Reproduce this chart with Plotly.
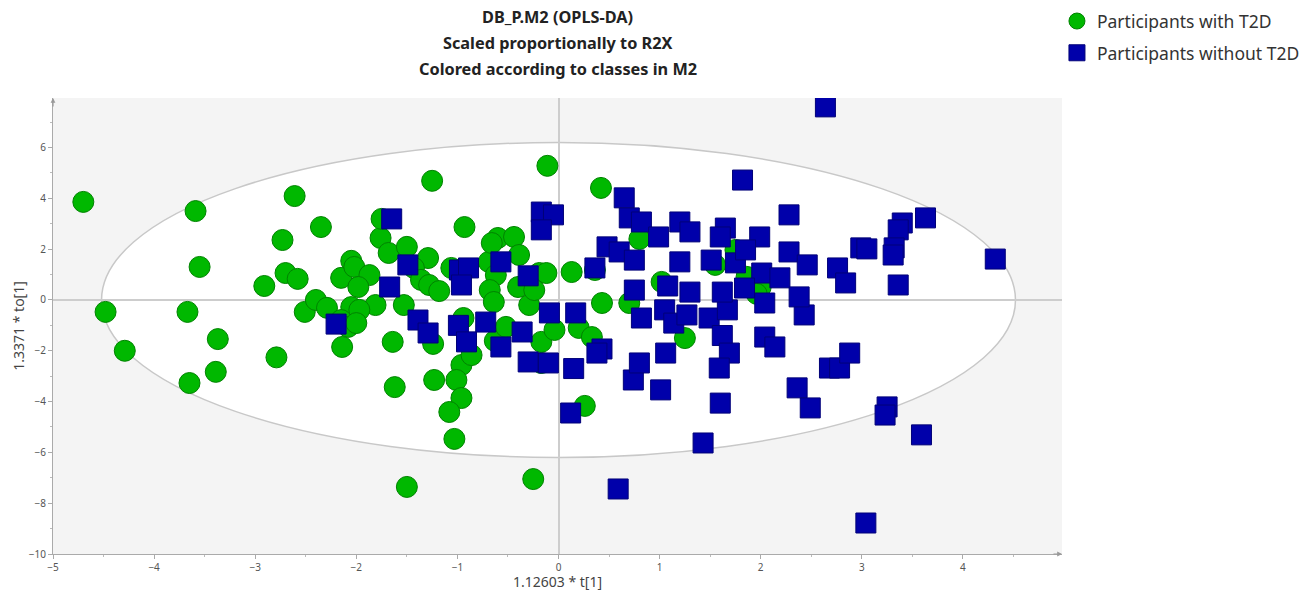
import plotly.graph_objects as go

# Participants with T2D (t[1] scaled, to[1] scaled)
t2d_x = [-4.70, -4.48, -4.29, -3.59, -3.55, -3.67, -3.65, -3.39, -3.37, -2.91,
         -2.79, -2.73, -2.70, -2.58, -2.61, -2.35, -2.51, -2.40, -2.29, -2.15,
         -2.05, -2.02, -1.87, -1.98, -1.76, -1.68, -1.75, -1.50, -1.81, -2.05,
         -1.97, -2.15, -2.08, -2.00, -2.14, -1.64, -1.62, -1.50, -1.29, -1.43,
         -1.36, -1.28, -1.18, -1.53, -1.24, -1.25, -0.93, -1.06, -0.94, -1.23,
         -0.96, -1.01, -0.96, -1.08, -1.03, -0.86, -0.63, -0.52, -0.69, -0.62,
         -0.68, -0.64, -0.60, -0.44, -0.39, -0.66, -0.19, -0.12, -0.40, -0.29,
         -0.24, -0.17, -0.17, -0.04, 0.20, 0.33, 0.13, -0.11, -0.25, 0.26,
         0.43, 0.42, 0.36, 0.80, 0.70, 1.02, 1.25, 1.55, 1.75, 1.86,
         2.00, 1.96]
t2d_y = [3.86, -0.47, -2.00, 3.50, 1.30, -0.47, -3.27, -2.83, -1.54, 0.55,
         -2.26, 2.36, 1.06, 0.83, 4.09, 2.87, -0.47, 0.00, -0.31, 0.87,
         1.54, 1.30, 0.98, 0.51, 2.44, 1.85, 3.19, 2.09, -0.20, -0.28,
         -0.39, -0.79, -1.06, -0.91, -1.85, -1.65, -3.43, -7.36, 1.65, 1.26,
         0.79, 0.59, 0.35, -0.20, -1.73, 4.69, 2.87, 1.26, -0.71, -3.15,
         -2.56, -3.15, -3.86, -4.41, -5.47, -2.17, -1.61, -1.06, 1.50, 0.98,
         0.39, -0.08, 2.44, 2.48, 1.77, 2.24, 1.06, 1.06, 0.51, -0.20,
         0.39, -1.65, -2.48, -1.18, -1.10, -1.46, 1.10, 5.28, -7.05, -4.17,
         -0.12, 4.41, 1.18, 2.40, -0.12, 0.71, -1.50, 1.38, 1.97, 0.91,
         0.51, 0.24]

# Participants without T2D
no_x = [-1.65, -1.67, -2.20, -1.49, -1.39, -1.29, -0.98, -0.89, -0.96, -0.99,
        -0.91, -0.72, -0.36, -0.57, -0.57, -0.30, -0.17, -0.05, -0.17, -0.09,
        0.17, -0.30, -0.10, 0.15, 0.12, 0.43, 0.38, 0.59, 1.43, 1.60,
        0.74, 0.80, 1.01, 1.06, 0.82, 1.05, 1.14, 1.27, 1.49, 1.67,
        1.62, 1.69, 1.59, 2.04, 2.14, 2.43, 2.36, 2.49, 2.68, 2.78,
        2.88, 1.82, 0.65, 0.70, 0.82, 1.20, 1.30, 1.65, 1.60, 2.28,
        1.99, 0.99, 0.48, 0.60, 0.75, 0.36, 1.20, 1.51, 1.75, 1.85,
        2.28, 2.46, 2.76, 2.84, 2.99, 2.01, 2.19, 2.38, 0.75, 1.08,
        1.30, 1.62, 1.84, 2.04, 2.64, 3.63, 3.40, 3.36, 3.32, 3.31,
        3.05, 4.32, 3.36, 3.25, 3.23, 3.59, 3.04]
no_y = [3.19, 0.51, -0.95, 1.38, -0.79, -1.30, 1.18, 1.26, 0.59, -1.00,
        -1.65, -0.87, -1.26, -1.85, 1.50, 0.95, 3.46, 3.35, 2.76, -0.51,
        -0.51, -2.44, -2.48, -2.70, -4.45, -1.93, -2.09, -7.44, -5.63, -4.06,
        -3.15, -2.48, -3.54, -2.09, -0.71, -0.39, -0.91, -0.59, -0.71, -0.39,
        -1.40, -2.09, -2.68, -1.46, -1.85, -0.59, -3.46, -4.25, -2.68, -2.68,
        -2.09, 4.72, 4.02, 3.23, 3.07, 3.07, 2.68, 2.83, 2.48, 3.35,
        2.48, 2.48, 2.09, 1.89, 1.57, 1.26, 1.50, 1.57, 1.46, 1.97,
        1.89, 1.38, 1.26, 0.67, 2.05, 1.06, 0.87, 0.12, 0.39, 0.55,
        0.31, 0.31, 0.47, -0.12, 7.60, 3.23, 3.03, 2.76, 2.05, 1.77,
        2.01, 1.61, 0.59, -4.21, -4.53, -5.31, -8.78]

# Hotelling's T2 ellipse semi-axes
ellipse_a = 4.52
ellipse_b = 6.2

title_lines = ["DB_P.M2 (OPLS-DA)", "Scaled proportionally to R2X",
               "Colored according to classes in M2"]
x_label = "1.12603 * t[1]"
y_label = "1.3371 * to[1]"

GREEN = "rgb(0,184,0)"
BLUE = "rgb(0,0,170)"

fig = go.Figure()
fig.add_trace(go.Scatter(
    x=t2d_x, y=t2d_y, mode="markers", name="Participants with T2D",
    legendgroup="a",
    marker=dict(symbol="circle", size=21, color=GREEN,
                line=dict(color="rgb(0,130,0)", width=1)),
    hoverinfo="x+y"))
fig.add_trace(go.Scatter(
    x=no_x, y=no_y, mode="markers", name="Participants without T2D",
    legendgroup="b",
    marker=dict(symbol="square", size=20, color=BLUE,
                line=dict(color="rgb(0,0,120)", width=1)),
    hoverinfo="x+y"))

fig.add_shape(type="circle", xref="x", yref="y",
              x0=-ellipse_a, x1=ellipse_a, y0=-ellipse_b, y1=ellipse_b,
              fillcolor="white", line=dict(color="rgb(200,200,200)", width=1.5),
              layer="below")

title_y = [1.178, 1.121, 1.064]
for txt, yy in zip(title_lines, title_y):
    fig.add_annotation(text="<b>" + txt + "</b>", xref="paper", yref="paper",
                       x=0.5, y=yy, showarrow=False, xanchor="center", yanchor="middle",
                       font=dict(family="Noto Sans", size=16.3, color="#222"))

# axis titles
fig.add_annotation(text=x_label, xref="paper", yref="paper", x=0.5, y=-0.06,
                   showarrow=False, xanchor="center", yanchor="middle",
                   font=dict(family="Noto Sans", size=14, color="#444"))
fig.add_annotation(text=y_label, xref="paper", yref="paper", x=-0.035, y=0.5,
                   showarrow=False, xanchor="center", yanchor="middle", textangle=-90,
                   font=dict(family="Noto Sans", size=14, color="#444"))

# axis arrows
fig.add_annotation(xref="paper", yref="paper", x=0, y=1.0, ax=0, ay=10, text="",
                   showarrow=True, arrowhead=2, arrowsize=0.8, arrowwidth=1.2,
                   arrowcolor="#999")
fig.add_annotation(xref="paper", yref="paper", x=1.0, y=0, ax=-10, ay=0, text="",
                   showarrow=True, arrowhead=2, arrowsize=0.8, arrowwidth=1.2,
                   arrowcolor="#999")

fig.update_layout(
    width=1314, height=593,
    margin=dict(l=53, r=252, t=98, b=39, autoexpand=False),
    paper_bgcolor="white",
    plot_bgcolor="rgb(244,244,244)",
    font=dict(family="Noto Sans", color="#555"),
    showlegend=True,
    legend=dict(x=0.995, y=1.208, xanchor="left", yanchor="top",
                font=dict(family="Noto Sans", size=17.5, color="#333"),
                tracegroupgap=6, bgcolor="rgba(0,0,0,0)"),
    xaxis=dict(range=[-5, 4.98], tickmode="array",
               tickvals=[-5, -4, -3, -2, -1, 0, 1, 2, 3, 4],
               ticks="outside", ticklen=4, tickcolor="#aaa",
               minor=dict(dtick=0.5, ticks="outside", ticklen=2, tickcolor="#bbb"),
               showgrid=False, zeroline=True, zerolinecolor="rgb(205,205,205)",
               zerolinewidth=1.5, showline=True, linecolor="#aaa", linewidth=1.2,
               tickfont=dict(size=10, color="#555"),
               automargin=False),
    yaxis=dict(range=[-10, 7.95], tickmode="array",
               tickvals=[-10, -8, -6, -4, -2, 0, 2, 4, 6],
               ticks="outside", ticklen=4, tickcolor="#aaa",
               minor=dict(dtick=1, ticks="outside", ticklen=2, tickcolor="#bbb"),
               showgrid=False, zeroline=True, zerolinecolor="rgb(205,205,205)",
               zerolinewidth=1.5, showline=True, linecolor="#aaa", linewidth=1.2,
               tickfont=dict(size=10, color="#555"),
               automargin=False),
)

fig.write_html("out.html", config={"displayModeBar": False},
               post_script="document.body.style.margin='0';")
